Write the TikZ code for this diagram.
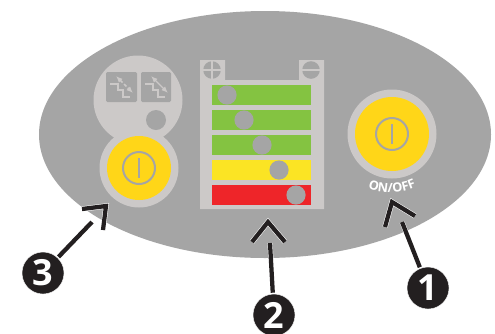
\documentclass[tikz,border=0pt]{standalone}
\usepackage{fontspec}
\setmainfont{Open Sans}
\usetikzlibrary{arrows.meta,decorations.text}
\definecolor{panelgray}{HTML}{A5A5A5}
\definecolor{lightgray}{HTML}{CCC9C8}
\definecolor{btnyellow}{HTML}{FFD618}
\definecolor{bargreen}{HTML}{84C341}
\definecolor{baryellow}{HTML}{FBE424}
\definecolor{barred}{HTML}{EE2529}
\definecolor{inkblack}{HTML}{231F20}
\tikzset{
	lightfill/.style = {fill=lightgray, draw=none},
	knob/.style = {fill=panelgray, draw=none},
	levelbar/.style = {draw=none},
	iconline/.style = {draw=lightgray, line width=1pt},
	chevron/.style = {line width=3.2pt, draw=inkblack, miter limit=10,
		preaction={draw=white, line width=4pt}},
	callout/.style = {line width=3.2pt, draw=inkblack,
		preaction={draw=white, line width=3.8pt}},
	badge/.style = {circle, fill=inkblack, draw=white, line width=0.3pt, minimum size=31.5pt,
		inner sep=0pt, outer sep=1pt, text=white, font=\fontsize{27}{27}\selectfont\bfseries}
}
\newcommand{\powerbutton}[4]{%
	\fill[lightfill] (#1,#2) circle (#3);
	\fill[btnyellow] (#1,#2) circle (#4);
	\draw[draw=panelgray, line width=1.5pt] (#1,#2) circle (16);
	\draw[draw=panelgray, line width=1.7pt] (#1,#2-10) -- (#1,#2+10);
}
\begin{document}
\begin{tikzpicture}[x = 0.75pt, y = -0.75pt]
	\useasboundingbox (0,0) rectangle (495,333);
	\fill[white] (0,0) rectangle (495,333);
	
	% housing
	\fill[panelgray] (265,134.5) ellipse [x radius=226, y radius=123.5];
	
	% left group
	\fill[lightfill] (138,100) circle (44.5);
	\powerbutton{139}{168}{39.5}{32}
	\fill[knob] (156,120) circle (10);
	
	\fill[knob, rounded corners=1pt] (106,72) rectangle (137,102);
	\fill[knob, rounded corners=1pt] (141,72) rectangle (171,102);
	
	\draw[iconline] (110,84) -- (118,84) -- (118,90) -- (123,90) -- (123,97) -- (130,97);
	\draw[iconline] (145,84) -- (153,84) -- (153,90) -- (158,90) -- (158,97) -- (165,97);
	\draw[iconline, line width=1.1pt, dash pattern=on 2.5pt off 1.5pt, {Latex[length=5pt,width=4pt]}-{Latex[length=5pt,width=4pt]}] (116,76) -- (133,93);
	\draw[iconline, {Latex[length=5pt,width=4pt]}-{Latex[length=5pt,width=4pt]}] (151,76) -- (168,93);
	
	% middle panel
	\fill[lightfill] (200,60) -- (225,60) -- (225,80) -- (299,80) -- (299,60) -- (324,60) -- (324,209) -- (200,209) -- cycle;
	
	\fill[knob] (212,70) circle (8.8);
	\draw[lightgray, line width=1.5pt] (203,70) -- (221,70) (212,61) -- (212,79);
	\fill[knob] (311,70) circle (8.8);
	\draw[lightgray, line width=1.5pt] (302,70) -- (320,70);
	
	\foreach \bary/\barcol/\knobx in {85/bargreen/227, 110/bargreen/244, 135/bargreen/262, 160/baryellow/279, 185/barred/296}
	{
		\fill[levelbar, \barcol] (212,\bary) rectangle (311,\bary+20);
		\fill[knob] (\knobx,\bary+10) circle (9.6);
	}
	
	% right button
	\powerbutton{392}{134}{44.5}{37}
	\path[decorate, decoration={text along path, text align=center,
		text={|\fontsize{9.5}{9.5}\selectfont\bfseries\color{white}|ON/OFF}}]
		(366,187) .. controls (380,194) and (402,194) .. (418,186);
	
	% callouts
	\node[badge] (badgeone) at (428,288) {1};
	\node[badge] (badgetwo) at (274,315) {2};
	\node[badge] (badgethree) at (43,273) {3};
	
	\coordinate (tipone) at (402,222);
	\coordinate (tiptwo) at (270,243);
	\coordinate (tipthree) at (92,222);
	
	\draw[callout] (badgeone) -- (tipone);
	\draw[callout] (badgetwo) -- (tiptwo);
	\draw[callout] (badgethree) -- (tipthree);
	
	\draw[chevron] (385,227) -- (392,202) -- (415,216);
	\draw[chevron] (252,242) -- (268,222) -- (285,242);
	\draw[chevron] (82,209) -- (106,206) -- (103,230);
\end{tikzpicture}
\end{document}
